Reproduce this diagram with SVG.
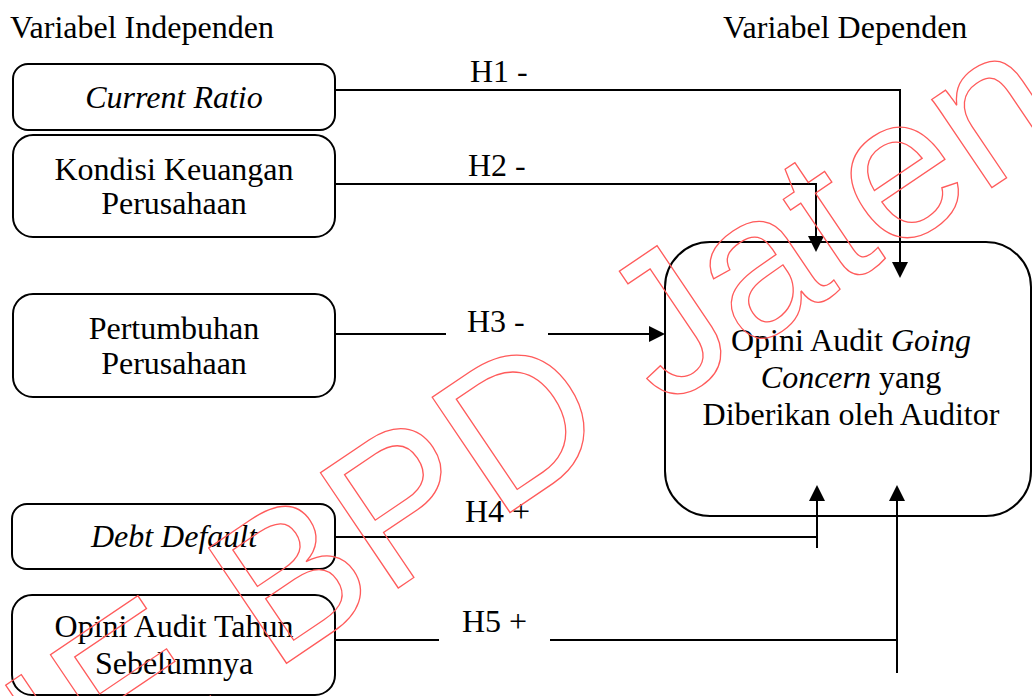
<svg xmlns="http://www.w3.org/2000/svg" width="1032" height="696" viewBox="0 0 1032 696">
<style>
  .t { font-family: "Liberation Serif", "Times New Roman", serif; font-size: 32px; fill: #000; }
  .c { text-anchor: middle; }
  .i { font-style: italic; }
  .box { fill: #fff; stroke: #000; stroke-width: 2; }
  .ln { fill: none; stroke: #000; stroke-width: 2; }
  .wm { font-family: "Liberation Sans", Arial, sans-serif; font-size: 202px; fill: none; stroke: #ff5b5b; stroke-width: 1.3; }
</style>
<defs>
  <marker id="arr" markerUnits="userSpaceOnUse" markerWidth="16" markerHeight="16" viewBox="0 0 16 16" refX="0" refY="8" orient="auto">
    <path d="M0,0 L16,8 L0,16 z" fill="#000"/>
  </marker>
</defs>
<rect width="1032" height="696" fill="#fff"/>

<text class="t" x="10" y="38">Variabel Independen</text>
<text class="t" x="723" y="38">Variabel Dependen</text>

<g id="current-ratio">
  <rect class="box" x="13" y="64" width="322" height="66" rx="15"/>
  <text class="t c i" x="174" y="108">Current Ratio</text>
</g>
<g id="kondisi-keuangan">
  <rect class="box" x="13" y="135" width="322" height="102" rx="20"/>
  <text class="t c" x="174" y="180">Kondisi Keuangan</text>
  <text class="t c" x="174" y="214">Perusahaan</text>
</g>
<g id="pertumbuhan">
  <rect class="box" x="13" y="294" width="322" height="103" rx="20"/>
  <text class="t c" x="174" y="339">Pertumbuhan</text>
  <text class="t c" x="174" y="374">Perusahaan</text>
</g>
<g id="debt-default">
  <rect class="box" x="12" y="504" width="323" height="65" rx="15"/>
  <text class="t c i" x="174" y="547">Debt Default</text>
</g>
<g id="opini-tahun-sebelumnya">
  <rect class="box" x="12" y="595" width="323" height="100" rx="20"/>
  <text class="t c" x="174" y="637">Opini Audit Tahun</text>
  <text class="t c" x="174" y="674">Sebelumnya</text>
</g>
<g id="opini-going-concern">
  <rect class="box" x="665" y="242" width="366" height="274" rx="45"/>
  <text class="t c" x="851" y="351">Opini Audit <tspan class="i">Going</tspan></text>
  <text class="t c" x="851" y="388"><tspan class="i">Concern</tspan> yang</text>
  <text class="t c" x="851" y="425">Diberikan oleh Auditor</text>
</g>

<g id="connectors">
  <path class="ln" d="M335,90 H900 V262" marker-end="url(#arr)"/>
  <path class="ln" d="M335,184 H816 V236" marker-end="url(#arr)"/>
  <path class="ln" d="M336,334 H446"/>
  <path class="ln" d="M548,334 H649" marker-end="url(#arr)"/>
  <path class="ln" d="M335,537 H817"/>
  <path class="ln" d="M817,548 V501" marker-end="url(#arr)"/>
  <path class="ln" d="M335,640 H439"/>
  <path class="ln" d="M550,640 H897"/>
  <path class="ln" d="M897,673 V501" marker-end="url(#arr)"/>
  <text class="t" x="470" y="82">H1 -</text>
  <text class="t" x="468" y="176">H2 -</text>
  <text class="t" x="467" y="332">H3 -</text>
  <text class="t" x="465" y="522">H4 +</text>
  <text class="t" x="462" y="632">H5 +</text>
</g>

<text class="wm" transform="translate(-146,955) rotate(-34)">STIE BPD Jateng</text>
</svg>
